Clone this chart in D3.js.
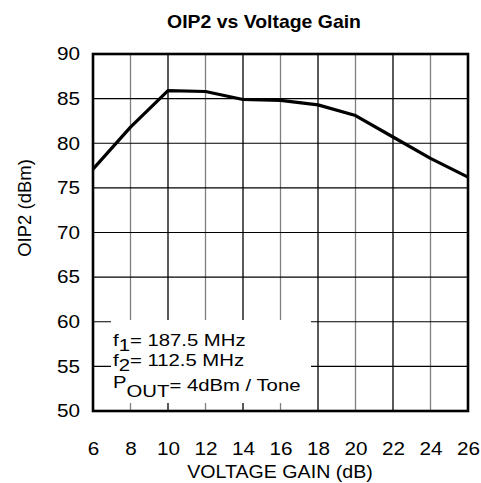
<!DOCTYPE html>
<html>
<head>
<meta charset="utf-8">
<script src="https://cdn.jsdelivr.net/npm/d3@7"></script>
<style>
  body { margin: 0; background: #fff; }
  text { font-family: "Liberation Sans", Arial, sans-serif; fill: #000; }
</style>
</head>
<body>
<div id="container"></div>
<script>
// Data
const gain = [6, 8, 10, 12, 14, 16, 18, 20, 22, 24, 26];
const oip2 = [77.1, 81.8, 85.9, 85.8, 84.9, 84.8, 84.3, 83.1, 80.7, 78.3, 76.2];
const xTicks = [6, 8, 10, 12, 14, 16, 18, 20, 22, 24, 26];
const yTicks = [50, 55, 60, 65, 70, 75, 80, 85, 90];
const noteLines = [
  { main: "f", sub: "1", rest: "= 187.5 MHz" },
  { main: "f", sub: "2", rest: "= 112.5 MHz" },
  { main: "P", sub: "OUT", rest: "= 4dBm / Tone" },
];

const width = 481, height = 483;
const margin = { top: 54, right: 13, bottom: 72, left: 93 };

const svg = d3
  .select("#container")
  .append("svg")
  .attr("width", width)
  .attr("height", height);

const x = d3.scaleLinear().domain([6, 26]).range([margin.left, width - margin.right]);
const y = d3.scaleLinear().domain([50, 90]).range([height - margin.bottom, margin.top]);

// text in the reference is a little wider than the font, stretch it horizontally
const placeText = (sel, px, py, sx) =>
  sel.attr("transform", "translate(" + px + "," + py + ") scale(" + sx + ",1)");

// Title
svg.append("text")
  .call(placeText, 264, 28, 1.08)
  .attr("text-anchor", "middle")
  .style("font-weight", "bold")
  .style("font-size", "18px")
  .text("OIP2 vs Voltage Gain");

// Grid: vertical lines alternate gray / black
const grid = svg.append("g");
grid.selectAll(".vgrid")
  .data(xTicks.slice(1, -1))
  .enter()
  .append("line")
  .attr("x1", (d) => x(d))
  .attr("x2", (d) => x(d))
  .attr("y1", y(50))
  .attr("y2", y(90))
  .attr("stroke", (d) => (d % 4 === 0 ? "#808080" : "#000"))
  .attr("stroke-width", 1.3);

grid.selectAll(".hgrid")
  .data(yTicks.slice(1, -1))
  .enter()
  .append("line")
  .attr("x1", x(6))
  .attr("x2", x(26))
  .attr("y1", (d) => y(d))
  .attr("y2", (d) => y(d))
  .attr("stroke", "#000")
  .attr("stroke-width", 1.1);

// White box behind the note
svg.append("rect")
  .attr("x", 111)
  .attr("y", 320)
  .attr("width", 200)
  .attr("height", 83)
  .attr("fill", "#fff");

// Curve
const line = d3.line()
  .x((d, i) => x(gain[i]))
  .y((d) => y(d));

svg.append("path")
  .datum(oip2)
  .attr("d", line)
  .attr("fill", "none")
  .attr("stroke", "#000")
  .attr("stroke-width", 3.2)
  .attr("stroke-linejoin", "round");

// Frame
svg.append("rect")
  .attr("x", x(6))
  .attr("y", y(90))
  .attr("width", x(26) - x(6))
  .attr("height", y(50) - y(90))
  .attr("fill", "none")
  .attr("stroke", "#000")
  .attr("stroke-width", 2.6);

// Axes (labels only, frame and grid drawn above)
const tickStretch = 1.15;
const xAxis = svg.append("g")
  .attr("transform", "translate(0," + y(50) + ")")
  .call(d3.axisBottom(x).tickValues(xTicks).tickSize(0).tickPadding(31));
const yAxis = svg.append("g")
  .attr("transform", "translate(" + x(6) + ",0)")
  .call(d3.axisLeft(y).tickValues(yTicks).tickSize(0).tickPadding(13));

[xAxis, yAxis].forEach((a) => {
  a.select(".domain").remove();
  a.selectAll("text")
    .style("font-family", "'Liberation Sans', Arial, sans-serif")
    .style("font-size", "18px")
    .attr("fill", "#000")
    .attr("transform", "scale(" + tickStretch + ",1)");
});
yAxis.selectAll("text").attr("x", -13 / tickStretch);

// Axis titles
svg.append("text")
  .call(placeText, 280, 478, 1.09)
  .attr("text-anchor", "middle")
  .style("font-size", "18px")
  .text("VOLTAGE GAIN (dB)");

svg.append("text")
  .attr("transform", "translate(31,208) rotate(-90)")
  .attr("text-anchor", "middle")
  .style("font-size", "18.5px")
  .text("OIP2 (dBm)");

// Note with subscripts
const noteBase = [345.7, 366.2, 390.5];
const note = svg.append("g");
noteLines.forEach((l, i) => {
  const long = l.sub.length > 1;
  const t = note.append("text")
    .call(placeText, 113, noteBase[i], 1.27)
    .style("font-size", "16px");
  t.append("tspan").attr("dy", long ? -2.5 : 0).text(l.main);
  t.append("tspan").attr("dy", long ? 8.5 : 5).text(l.sub);
  t.append("tspan").attr("dy", long ? -6 : -5).text(l.rest);
});
</script>
</body>
</html>
